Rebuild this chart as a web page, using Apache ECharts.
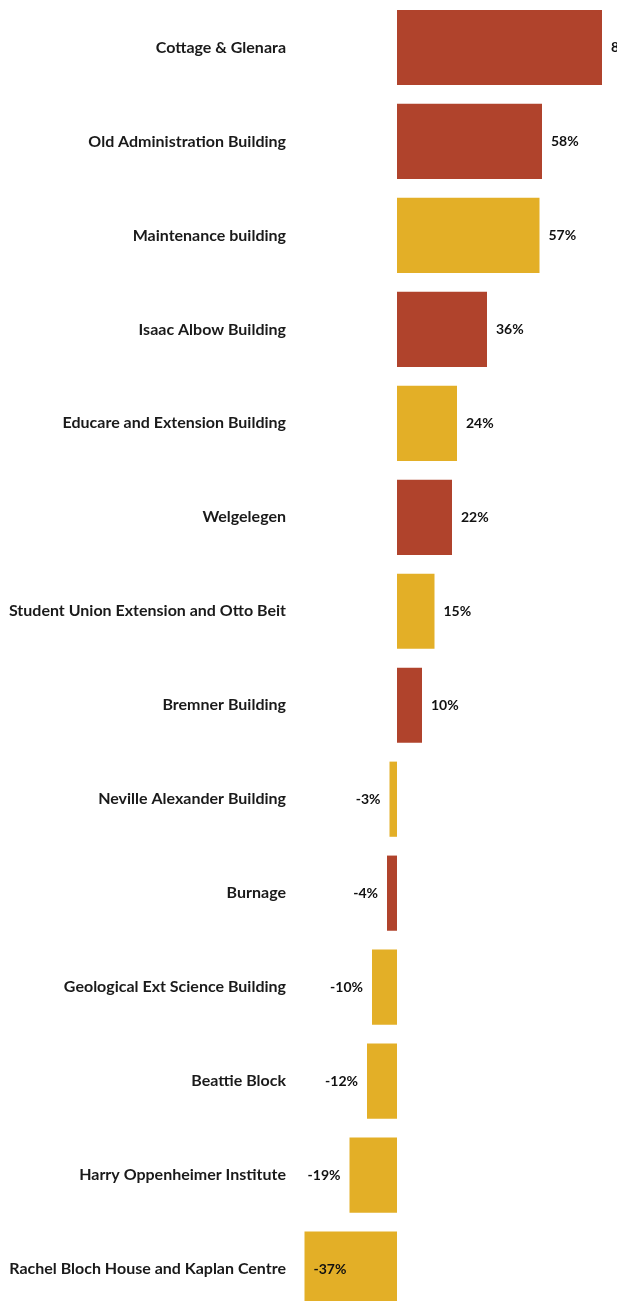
<!DOCTYPE html>
<html>
<head>
<meta charset="utf-8">
<script src="https://cdn.jsdelivr.net/npm/echarts@6/dist/echarts.min.js"></script>
<style>
html,body{margin:0;padding:0;background:#fff;overflow:hidden;}
#chart{width:617px;height:1316px;}
</style>
</head>
<body>
<div id="chart"></div>
<script>
const categories = [
  "Cottage & Glenara",
  "Old Administration Building",
  "Maintenance building",
  "Isaac Albow Building",
  "Educare and Extension Building",
  "Welgelegen",
  "Student Union Extension and Otto Beit",
  "Bremner Building",
  "Neville Alexander Building",
  "Burnage",
  "Geological Ext Science Building",
  "Beattie Block",
  "Harry Oppenheimer Institute",
  "Rachel Bloch House and Kaplan Centre"
];
const values = [82, 58, 57, 36, 24, 22, 15, 10, -3, -4, -10, -12, -19, -37];
const groups = ["r", "r", "y", "r", "y", "r", "y", "r", "y", "r", "y", "y", "y", "y"];
const palette = { r: "#B0432C", y: "#E3AF27" };

const labelBase = {
  show: true,
  formatter: "{c}%",
  fontFamily: "Lato",
  fontWeight: "bold",
  fontSize: 14,
  color: "#111"
};

const data = values.map((v, i) => {
  let pos = v >= 0 ? "right" : "left";
  if (v <= -30) pos = "insideLeft";
  return {
    value: v,
    itemStyle: { color: palette[groups[i]] },
    label: Object.assign({}, labelBase, { position: pos, distance: 9 })
  };
});

const chart = echarts.init(document.getElementById("chart"), null, { renderer: "canvas" });
chart.setOption({
  animation: false,
  grid: { left: 297, top: 0.5, right: 0, bottom: 0 },
  xAxis: {
    type: "value",
    min: -40,
    max: 88,
    show: false
  },
  yAxis: {
    type: "category",
    data: categories,
    inverse: true,
    axisLine: { show: false },
    axisTick: { show: false },
    splitLine: { show: false },
    axisLabel: {
      margin: 11,
      fontFamily: "Lato",
      fontWeight: "bold",
      fontSize: 16,
      color: "#1a1a1a"
    }
  },
  series: [{
    type: "bar",
    data: data,
    barCategoryGap: "20%"
  }]
});
</script>
</body>
</html>
